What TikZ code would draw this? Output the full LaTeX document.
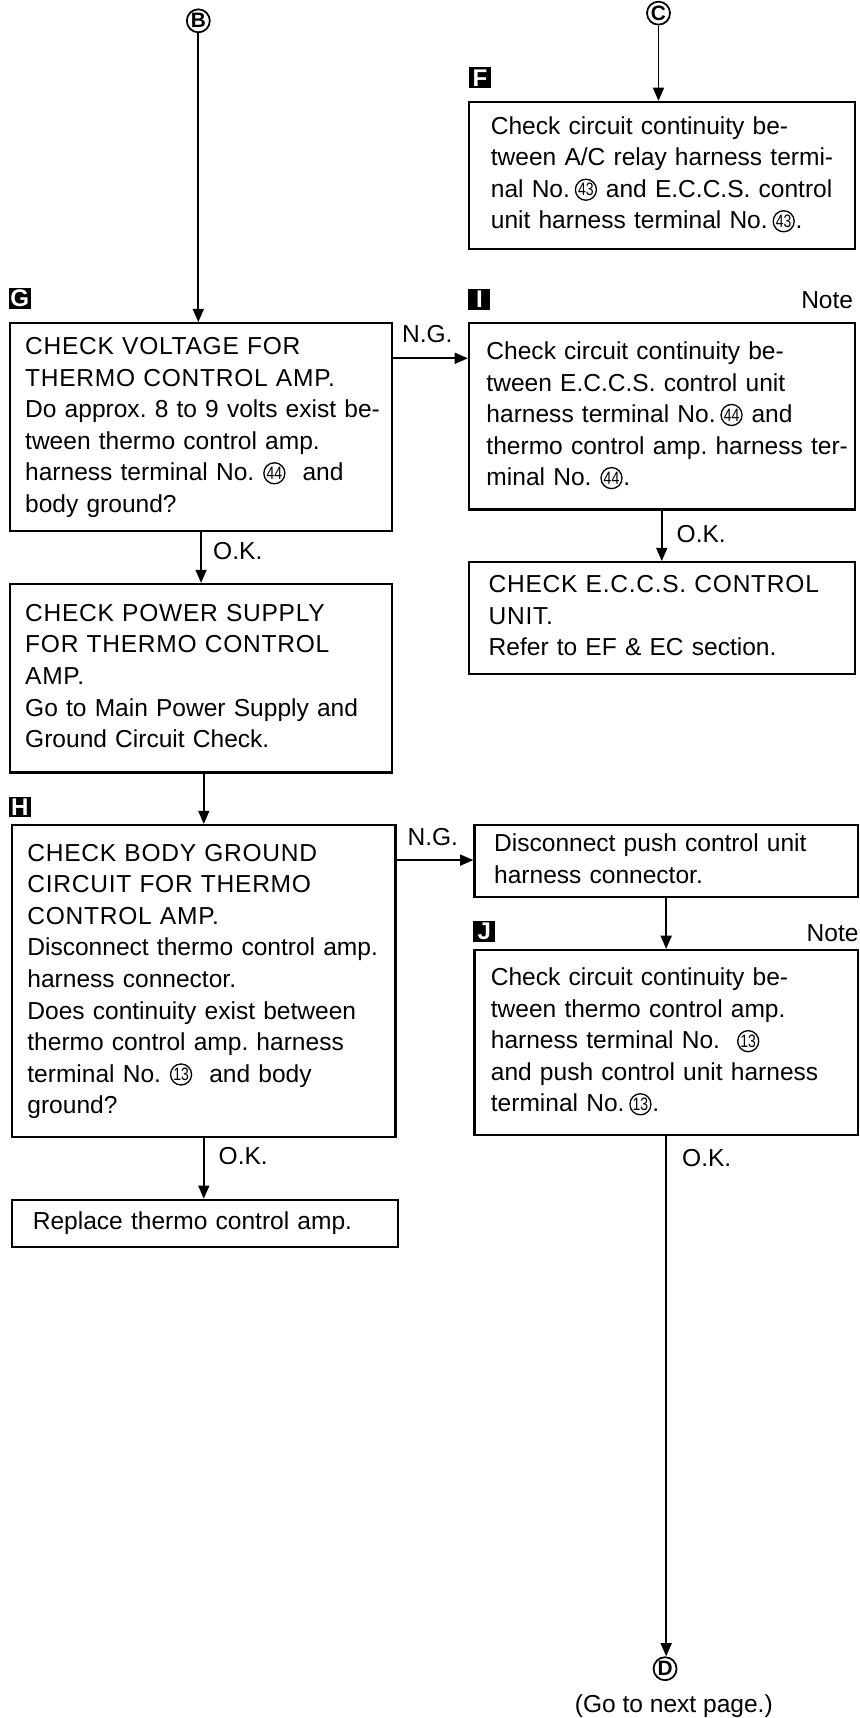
\documentclass[tikz,border=0pt]{standalone}
\usepackage{fontspec}
\usepackage{graphicx}
\usepackage{pict2e}
\usetikzlibrary{arrows.meta}
\newfontfamily\bodyfont{Liberation Sans}
\newfontfamily\capsfont[LetterSpace=3,WordSpace=2.2]{Liberation Sans}
\frenchspacing
\newcommand\cnum[1]{\mbox{\kern0.6pt\setlength\unitlength{1pt}\begin{picture}(9.6,8)(0,0)\linethickness{0.6pt}\put(4.8,3.5){\circle{9.6}}\put(4.8,3.5){\makebox(0,0){\fontsize{8.2}{8.2}\selectfont\scalebox{0.78}[1]{#1}}}\end{picture}\kern0.6pt}}
\newcommand\tl[1]{\noindent\begin{tabular}{@{}l@{}}#1\end{tabular}}
\tikzset{
  box/.style={draw, line width=1pt, anchor=north west, align=left, inner ysep=0pt,
    font=\bodyfont\frenchspacing\fontsize{11.2}{14.4}\selectfont},
  lbl/.style={inner sep=0pt, font=\bodyfont\frenchspacing\fontsize{11.2}{14.4}\selectfont},
  tag/.style={fill=black, text=white, inner sep=0pt, minimum width=10pt, minimum height=9.5pt,
    font=\bodyfont\bfseries\fontsize{11}{11}\selectfont},
  cl/.style={circle, draw, line width=0.8pt, minimum size=10.5pt, inner sep=0pt,
    font=\bodyfont\bfseries\fontsize{9.5}{9.5}\selectfont},
  arr/.style={line width=0.8pt, -{Triangle[length=6pt,width=5pt]}}
}
\begin{document}
\begin{tikzpicture}[x=0.5pt,y=-0.5pt]
\useasboundingbox (0,0) rectangle (784,1568);
\fill[white] (0,0) rectangle (784,1568);

% connector circles
\node[cl] (B) at (181,19) {B};
\node[cl] (C) at (601,12) {C};
\node[cl] (D) at (607,1523) {D};
\node[lbl] (next) at (615,1557) {(Go to next page.)};

% tags
\node[tag] (tF) at (438,71) {F};
\node[tag] (tG) at (18,272.5) {G};
\node[tag] (tI) at (437.5,273) {I};
\node[tag] (tH) at (18,736.5) {H};
\node[tag] (tJ) at (442,850) {J};
\node[lbl, anchor=east] (noteI) at (779,274) {Note};
\node[lbl, anchor=east] (noteJ) at (784,852) {Note};

% boxes
\node[box, text width=156pt, inner xsep=10pt, minimum height=67pt] (F) at (427,92)
 {\tl{Check circuit continuity be-\\tween A/C relay harness termi-\\nal No.\,\cnum{43}\ and E.C.C.S. control\\unit harness terminal No.\,\cnum{43}.}\par\vspace{3pt}};

\node[box, text width=160.5pt, inner xsep=7pt, minimum height=95pt] (G) at (8,294)
 {\tl{\capsfont CHECK VOLTAGE FOR\\\capsfont THERMO CONTROL AMP.\\Do approx. 8 to 9 volts exist be-\\tween thermo control amp.\\harness terminal No. \cnum{44}\ \ and\\body ground?}};

\node[box, text width=160.5pt, inner xsep=7pt, minimum height=86pt] (P) at (8,532)
 {\tl{\capsfont CHECK POWER SUPPLY\\\capsfont FOR THERMO CONTROL\\\capsfont AMP.\\Go to Main Power Supply and\\Ground Circuit Check.}\par\vspace{8pt}};

\node[box, text width=161pt, inner xsep=7pt, minimum height=142.5pt] (H) at (10,752)
 {\tl{\capsfont CHECK BODY GROUND\\\capsfont CIRCUIT FOR THERMO\\\capsfont CONTROL AMP.\\Disconnect thermo control amp.\\harness connector.\\Does continuity exist between\\thermo control amp. harness\\terminal No. \cnum{13}\ \ and body\\ground?}};

\node[box, text width=157pt, inner xsep=9.5pt, minimum height=21.5pt] (R) at (10,1094)
 {\tl{Replace thermo control amp.}};

\node[box, text width=160pt, inner xsep=8pt, minimum height=85pt] (I) at (427,294)
 {\tl{Check circuit continuity be-\\tween E.C.C.S. control unit\\harness terminal No.\,\cnum{44}\ and\\thermo control amp. harness ter-\\minal No. \cnum{44}.}};

\node[box, text width=158pt, inner xsep=9pt, minimum height=51pt] (E) at (427,512)
 {\tl{\capsfont CHECK E.C.C.S. CONTROL\\\capsfont UNIT.\\Refer to EF \& EC section.}};

\node[box, text width=157pt, inner xsep=9pt, minimum height=33pt] (Dc) at (432,752)
 {\tl{Disconnect push control unit\\harness connector.}};

\node[box, text width=160pt, inner xsep=7.5pt, minimum height=84.5pt] (J) at (432,866)
 {\tl{Check circuit continuity be-\\tween thermo control amp.\\harness terminal No. \ \cnum{13}\\and push control unit harness\\terminal No.\,\cnum{13}.}\par\vspace{3pt}};

% helper coordinates for horizontal connectors
\coordinate (ng1) at (400,327);
\coordinate (ng2) at (400,785);

% connectors
\draw[arr] (B.south) -- (B.south |- G.north);
\draw[arr] (C.south) -- (C.south |- F.north);
\draw[arr] (G.south) -- (P.north);
\draw[arr] (P.south -| H.north) -- (H.north);
\draw[arr] (H.south) -- (H.south |- R.north);
\draw[arr] (I.south) -- (E.north);
\draw[arr] (Dc.south) -- (J.north);
\draw[arr] (J.south) -- (J.south |- D.north);
\draw[arr] (G.east |- ng1) -- (I.west |- ng1);
\draw[arr] (H.east |- ng2) -- (Dc.west |- ng2);

% branch labels
\node[lbl] (okG) at (217,503) {O.K.};
\node[lbl] (okI) at (640,487) {O.K.};
\node[lbl] (okH) at (222,1055) {O.K.};
\node[lbl] (okJ) at (645,1057) {O.K.};
\node[lbl] (ngG) at (390,305) {N.G.};
\node[lbl] (ngH) at (395,764) {N.G.};
\end{tikzpicture}
\end{document}
